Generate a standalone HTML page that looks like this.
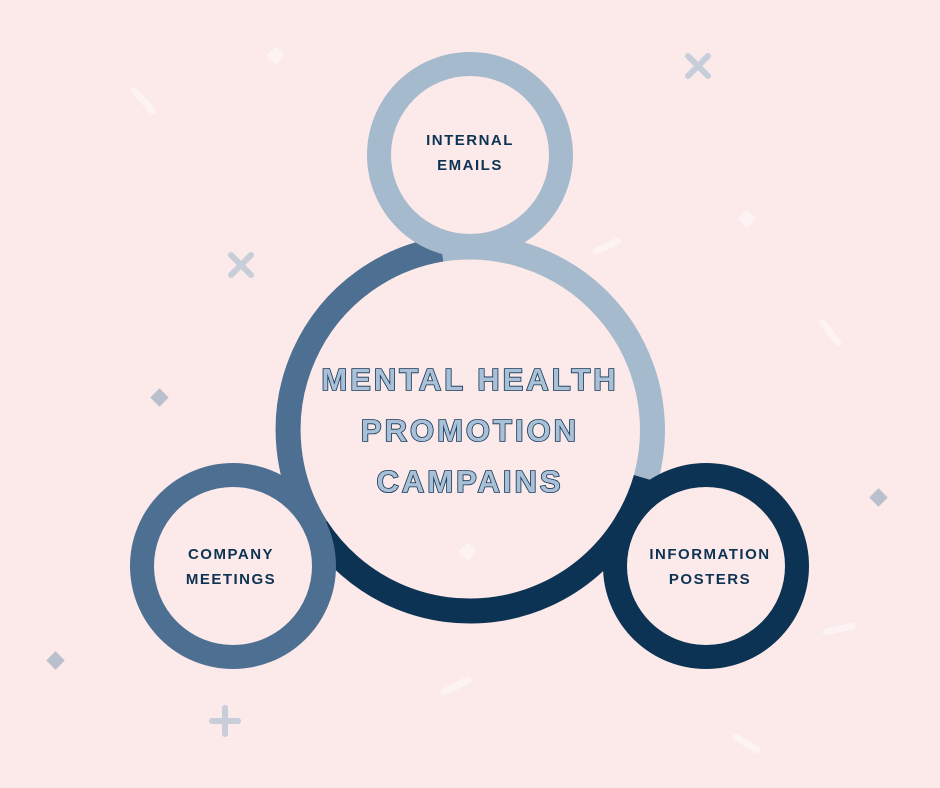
<!DOCTYPE html>
<html><head><style>
html,body{margin:0;padding:0;}
body{width:940px;height:788px;background:#fce9e9;overflow:hidden;}
svg{display:block}
.t{font-family:"Liberation Sans",sans-serif;font-weight:bold;fill:#a9c0d6;stroke:#0d3354;stroke-width:1.6;paint-order:stroke;letter-spacing:3px;font-size:31px;}
.s{font-family:"Liberation Sans",sans-serif;font-weight:bold;fill:#0d3354;font-size:15px;letter-spacing:1.5px;}
</style></head><body>
<svg width="940" height="788" viewBox="0 0 940 788">
<!-- decorations -->
<g stroke="#fdf3f3" stroke-width="7" stroke-linecap="round" fill="none">
<line x1="134" y1="91" x2="153" y2="111"/>
<line x1="596" y1="251" x2="618" y2="241"/>
<line x1="823" y1="323" x2="838" y2="343"/>
<line x1="826" y1="632" x2="852" y2="626"/>
<line x1="444" y1="692" x2="468" y2="680"/>
<line x1="736" y1="737" x2="757" y2="750"/>
</g>
<g fill="#fdf3f3">
<rect x="269" y="49" width="13" height="13" transform="rotate(45 275.5 55.5)"/>
<rect x="740" y="212" width="13" height="13" transform="rotate(45 746.5 218.5)"/>
<rect x="461" y="545" width="13" height="13" transform="rotate(45 467.5 551.5)"/>
</g>
<g stroke="#c8ced9" stroke-width="6" stroke-linecap="round">
<line x1="688" y1="56" x2="708" y2="76"/><line x1="708" y1="56" x2="688" y2="76"/>
<line x1="231" y1="255" x2="251" y2="275"/><line x1="251" y1="255" x2="231" y2="275"/>
<line x1="225" y1="708" x2="225" y2="734"/><line x1="212" y1="721" x2="238" y2="721"/>
</g>
<g fill="#b9bfcc">
<rect x="153" y="391" width="13" height="13" transform="rotate(45 159.5 397.5)"/>
<rect x="872" y="491" width="13" height="13" transform="rotate(45 878.5 497.5)"/>
<rect x="49" y="654" width="13" height="13" transform="rotate(45 55.5 660.5)"/>
</g>
<!-- big ring arcs, center 470,430 r=183 -->
<g fill="none" stroke-width="25">
<path d="M 441.4 249.2 A 183 183 0 0 1 645.9 478.5" stroke="#a5bacd"/>
<path d="M 645.9 478.5 A 183 183 0 0 1 316.5 527.7" stroke="#0d3354"/>
<path d="M 316.5 527.7 A 183 183 0 0 1 441.4 249.2" stroke="#4d6f91"/>
</g>
<!-- small circles -->
<circle cx="470" cy="155" r="91" fill="#fce9e9" stroke="#a5bacd" stroke-width="24"/>
<circle cx="233" cy="566" r="91" fill="#fce9e9" stroke="#4d6f91" stroke-width="24"/>
<circle cx="706" cy="566" r="91" fill="#fce9e9" stroke="#0d3354" stroke-width="24"/>
<!-- title -->
<text class="t" x="470" y="390" text-anchor="middle">MENTAL HEALTH</text>
<text class="t" x="470" y="441" text-anchor="middle">PROMOTION</text>
<text class="t" x="470" y="492" text-anchor="middle">CAMPAINS</text>
<!-- labels -->
<text class="s" x="470" y="145" text-anchor="middle">INTERNAL</text>
<text class="s" x="470" y="170" text-anchor="middle">EMAILS</text>
<text class="s" x="231" y="559" text-anchor="middle">COMPANY</text>
<text class="s" x="231" y="584" text-anchor="middle">MEETINGS</text>
<text class="s" x="710" y="559" text-anchor="middle">INFORMATION</text>
<text class="s" x="710" y="584" text-anchor="middle">POSTERS</text>
</svg>
</body></html>
